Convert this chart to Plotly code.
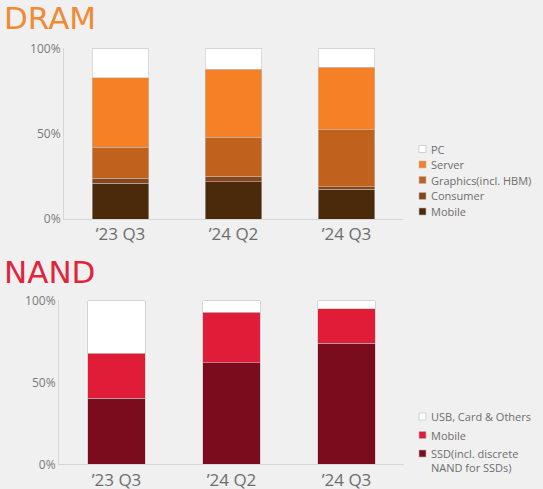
import plotly.graph_objects as go

# Data
quarters = ["’23 Q3", "’24 Q2", "’24 Q3"]

dram_mobile = [21, 22, 17.5]
dram_consumer = [3, 3, 1.5]
dram_graphics = [18, 23, 33.5]
dram_server = [41, 40, 36.5]
dram_pc = [17, 12, 11]

nand_ssd = [40.5, 62, 74]
nand_mobile = [27.5, 31, 21]
nand_usb = [32, 7, 5]

dram_series = [
    ("Mobile", dram_mobile, "#4b2a0c"),
    ("Consumer", dram_consumer, "#8a4416"),
    ("Graphics(incl. HBM)", dram_graphics, "#c0621d"),
    ("Server", dram_server, "#f58025"),
    ("PC", dram_pc, "#ffffff"),
]
nand_series = [
    ("SSD(incl. discrete<br>NAND for SSDs)", nand_ssd, "#7b0c1d"),
    ("Mobile", nand_mobile, "#e01c38"),
    ("USB, Card & Others", nand_usb, "#ffffff"),
]

W, H = 543, 489
fig = go.Figure()

for name, vals, col in dram_series:
    fig.add_trace(go.Bar(x=quarters, y=vals, name=name, marker_color=col,
                         marker_line=dict(color="rgba(190,190,190,0.7)", width=0.8),
                         xaxis="x", yaxis="y", width=0.5, showlegend=False))

for name, vals, col in nand_series:
    fig.add_trace(go.Bar(x=quarters, y=vals, name=name, marker_color=col,
                         marker_line=dict(color="rgba(190,190,190,0.7)", width=0.8),
                         xaxis="x2", yaxis="y2", width=0.5, showlegend=False))

font = "Open Sans"
tick_y = dict(range=[0, 100.5], tickvals=[0, 50, 100], ticktext=["0%", "50%", "100%"],
              showgrid=False, zeroline=False, showline=True, linecolor="#d6d6d6",
              tickfont=dict(size=12, color="#7a7a7a"), ticks="", automargin=False)
tick_x = dict(showgrid=False, showline=True, linecolor="#d6d6d6", ticks="",
              tickfont=dict(size=17, color="#6e6e6e"), range=[-0.5, 2.5],
              automargin=False)

# hand-made legends (plotly legend rows can't be packed as tight as the original)
shapes, annots = [], []
def legend_block(series, ys, x_sym=419, x_txt=429):
    for (name, vals, col), yc in zip(reversed(series), ys):
        shapes.append(dict(type="rect", xref="paper", yref="paper",
                           x0=x_sym / W, x1=(x_sym + 7) / W,
                           y0=1 - (yc + 3.5) / H, y1=1 - (yc - 3.5) / H,
                           fillcolor=col, line=dict(color="#bbbbbb", width=0.6)))
        annots.append(dict(text=name, x=x_txt / W, y=1 - (yc - 9.5) / H,
                           xref="paper", yref="paper", xanchor="left", yanchor="top",
                           align="left", showarrow=False,
                           font=dict(size=11, color="#6e6e6e", family=font)))

legend_block(dram_series, [149, 164.5, 180, 196, 211.5])
legend_block(nand_series, [416.5, 435, 453.5])

annots += [
    dict(text="DRAM", x=0.004, y=1 - 18 / H, xref="paper", yref="paper",
         xanchor="left", yanchor="middle", showarrow=False,
         font=dict(size=31, color="#f08a35", family="DejaVu Sans")),
    dict(text="NAND", x=0.004, y=1 - 272 / H, xref="paper", yref="paper",
         xanchor="left", yanchor="middle", showarrow=False,
         font=dict(size=31, color="#e0243c", family="DejaVu Sans")),
]

fig.update_layout(
    width=W, height=H,
    margin=dict(l=0, r=0, t=0, b=0),
    paper_bgcolor="#f0f0f0", plot_bgcolor="rgba(0,0,0,0)",
    font=dict(family=font, color="#6e6e6e"),
    barmode="stack", showlegend=False,
    xaxis=dict(domain=[64 / W, 403 / W], anchor="y", **tick_x),
    yaxis=dict(domain=[1 - 219 / H, 1 - 47.7 / H], anchor="x", **tick_y),
    xaxis2=dict(domain=[59 / W, 404 / W], anchor="y2", **tick_x),
    yaxis2=dict(domain=[1 - 464.3 / H, 1 - 300 / H], anchor="x2", **tick_y),
    shapes=shapes,
    annotations=annots,
)

fig.write_html("out.html", config={"displayModeBar": False},
               post_script="document.body.style.margin='0px';")
